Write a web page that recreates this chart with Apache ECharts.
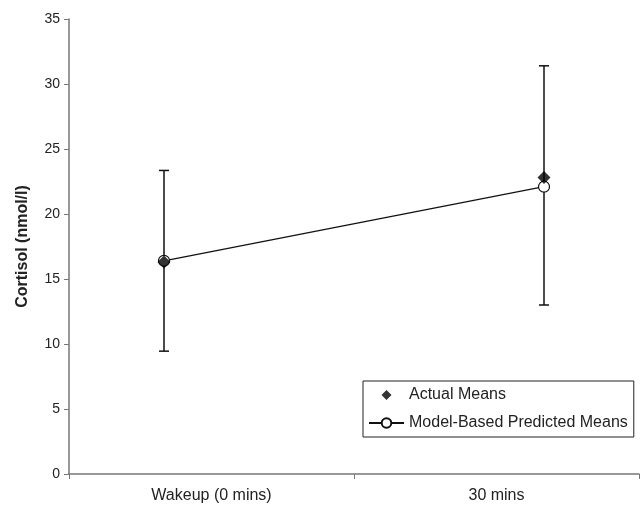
<!DOCTYPE html>
<html>
<head>
<meta charset="utf-8">
<script src="https://cdn.jsdelivr.net/npm/echarts@6/dist/echarts.min.js"></script>
<style>
  html, body { margin: 0; padding: 0; background: #fff; }
  #chart { width: 642px; height: 506px; }
</style>
</head>
<body>
<div id="chart"></div>
<script>
var categories = ['Wakeup (0 mins)', '30 mins'];
var minutes = [0, 30];
var actualMeans = [16.3, 22.8];
var predictedMeans = [16.4, 22.1];
var errLow = [9.45, 13.0];
var errHigh = [23.35, 31.4];

var font = 'Liberation Sans, Arial, sans-serif';
var myChart = echarts.init(document.getElementById('chart'));

var errData = minutes.map(function (m, i) { return [m, errLow[i], errHigh[i]]; });

var option = {
  animation: false,
  textStyle: { fontFamily: font },
  grid: { left: 69, top: 19, right: 3, bottom: 32 },
  legend: {
    orient: 'vertical',
    left: 363,
    top: 381,
    padding: [6, 6, 6, 5],
    itemGap: 12,
    itemWidth: 35,
    itemHeight: 12,
    borderColor: '#222',
    borderWidth: 1,
    textStyle: { fontFamily: font, fontSize: 16, lineHeight: 14, color: '#222' },
    data: [
      {
        name: 'Actual Means',
        icon: 'path://M-1.2,-1.2L-1.2,-1.2M1.2,1.2L1.2,1.2M0,-1L1,0L0,1L-1,0Z',
        itemStyle: { color: '#000' }
      },
      { name: 'Model-Based Predicted Means' }
    ]
  },
  xAxis: [{
    type: 'category',
    data: categories,
    boundaryGap: true,
    axisLine: { lineStyle: { color: '#777', width: 1.5 } },
    axisTick: { show: true, length: 5, lineStyle: { color: '#777' } },
    axisLabel: { fontSize: 16, color: '#222', margin: 14, fontFamily: font }
  }, {
    type: 'value',
    min: -7.5,
    max: 37.5,
    show: false
  }],
  yAxis: {
    type: 'value',
    min: 0,
    max: 35,
    interval: 5,
    name: 'Cortisol (nmol/l)',
    nameLocation: 'middle',
    nameGap: 38,
    nameTextStyle: { fontSize: 16, fontWeight: 'bold', color: '#222', fontFamily: font },
    axisLine: { show: true, onZero: false, lineStyle: { color: '#777', width: 1.5 } },
    axisTick: { show: true, length: 5, lineStyle: { color: '#777' } },
    axisLabel: { fontSize: 14, color: '#222', margin: 9, fontFamily: font },
    splitLine: { show: false }
  },
  series: [{
    type: 'custom',
    xAxisIndex: 1,
    data: errData,
    z: 2,
    renderItem: function (params, api) {
      var x = api.value(0);
      var lo = api.coord([x, api.value(1)]);
      var hi = api.coord([x, api.value(2)]);
      var w = 5;
      var st = { stroke: '#111', lineWidth: 1.5 };
      return {
        type: 'group',
        children: [
          { type: 'line', shape: { x1: lo[0], y1: lo[1], x2: hi[0], y2: hi[1] }, style: st },
          { type: 'line', shape: { x1: lo[0] - w, y1: lo[1], x2: lo[0] + w, y2: lo[1] }, style: st },
          { type: 'line', shape: { x1: hi[0] - w, y1: hi[1], x2: hi[0] + w, y2: hi[1] }, style: st }
        ]
      };
    }
  }, {
    name: 'Model-Based Predicted Means',
    type: 'line',
    xAxisIndex: 1,
    data: minutes.map(function (m, i) { return [m, predictedMeans[i]]; }),
    symbol: 'circle',
    symbolSize: 11,
    z: 3,
    lineStyle: { color: '#111', width: 1.3 },
    itemStyle: { color: '#fff', borderColor: '#111', borderWidth: 1.2 }
  }, {
    name: 'Actual Means',
    type: 'scatter',
    xAxisIndex: 1,
    data: minutes.map(function (m, i) { return [m, actualMeans[i]]; }),
    symbol: 'diamond',
    symbolSize: 13,
    z: 4,
    itemStyle: { color: '#000' }
  }]
};

myChart.setOption(option);
</script>
</body>
</html>
